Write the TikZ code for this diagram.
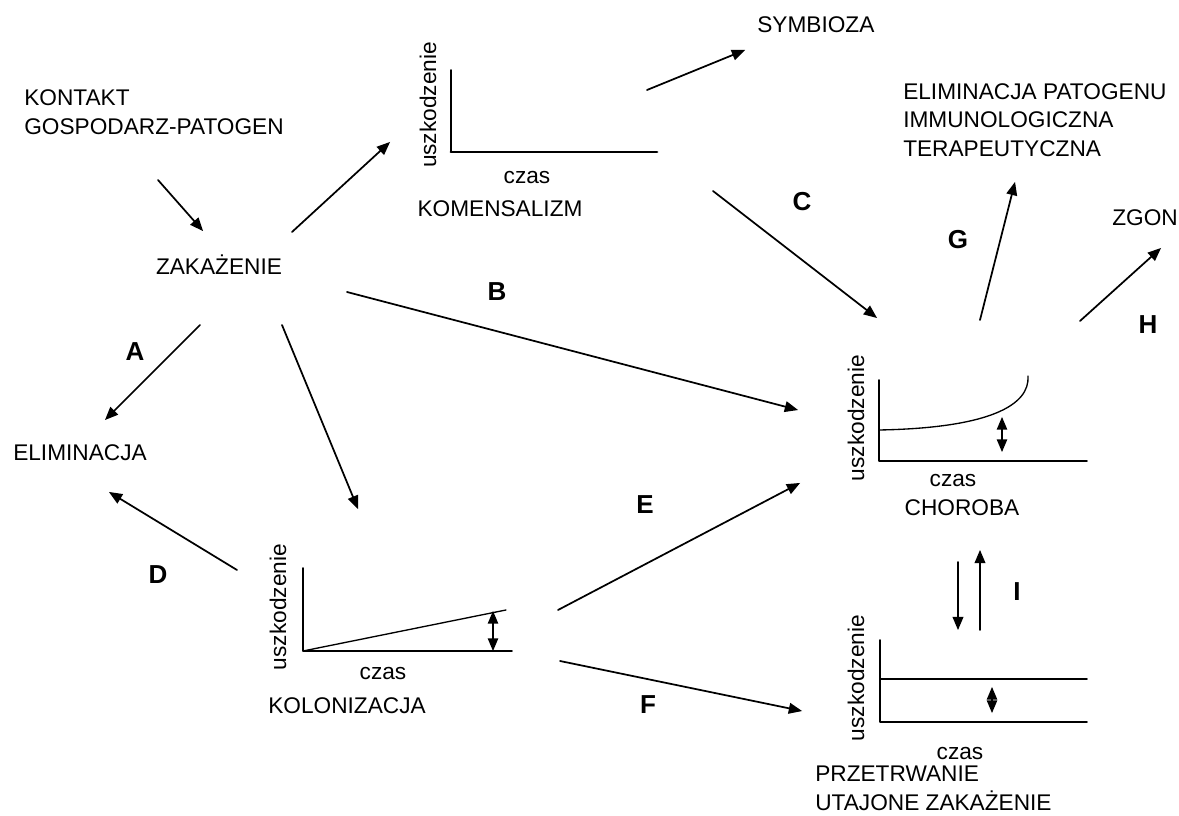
\documentclass[tikz,border=0pt]{standalone}
\usepackage{fontspec}
\setmainfont{Liberation Sans}
\usetikzlibrary{arrows}

\begin{document}
\begin{tikzpicture}[line cap=round,line join=round,>=triangle 45,x=0.75pt,y=-0.75pt,
  every node/.style={font=\fontsize{17}{21.5}\selectfont,inner sep=0pt},
  letter/.style={font=\fontsize{19.5}{20}\selectfont\bfseries},
  conn/.style={->,line width=1.3pt},
  axis/.style={line width=1.4pt},
  trend/.style={line width=1pt},
  spanarrow/.style={<->,line width=1.2pt}]
\useasboundingbox (0,0) rectangle (1179,816);

% texts
\node[anchor=west,align=left] (kontakt) at (24,112) {KONTAKT\\GOSPODARZ-PATOGEN};
\node[anchor=base] (zakazenie) at (219,275) {ZAKAŻENIE};
\node[anchor=base west] (eliminacja) at (13,461) {ELIMINACJA};
\node[anchor=base west] (symbioza) at (757,33) {SYMBIOZA};
\node[anchor=west,align=left] (elimpat) at (903,120) {ELIMINACJA PATOGENU\\IMMUNOLOGICZNA\\TERAPEUTYCZNA};
\node[anchor=base west] (zgon) at (1112,226) {ZGON};
\node[anchor=base] (komensalizm) at (500,217) {KOMENSALIZM};
\node[anchor=base] (choroba) at (962,516) {CHOROBA};
\node[anchor=base] (kolonizacja) at (347,713) {KOLONIZACJA};
\node[anchor=west,align=left] (przetrwanie) at (815,788) {PRZETRWANIE\\UTAJONE ZAKAŻENIE};

% letters
\node[letter] (la) at (135,352) {A};
\node[letter] (lb) at (497,292) {B};
\node[letter] (lc) at (802,202) {C};
\node[letter] (ld) at (158,575) {D};
\node[letter] (le) at (645,505) {E};
\node[letter] (lf) at (648,705) {F};
\node[letter] (lg) at (958,240) {G};
\node[letter] (lh) at (1148,325) {H};
\node[letter] (li) at (1017,592) {I};

% graph komensalizm
\draw[axis] (451,70) -- (451,152);
\draw[line width=2.2pt] (451,152) -- (657,152);
\node[rotate=90] (kom-y) at (428,105) {uszkodzenie};
\node[anchor=base] (kom-x) at (527,184) {czas};

% graph choroba
\draw[axis] (879,380) -- (879,461) -- (1087,461);
\draw[trend] (879,430) .. controls (990,428) and (1030,405) .. (1028,376);
\draw[spanarrow] (1002,417) -- (1002,452);
\node[rotate=90] (chor-y) at (856,418) {uszkodzenie};
\node[anchor=base] (chor-x) at (953,487) {czas};

% graph kolonizacja
\draw[axis] (303,568) -- (303,651) -- (512,651);
\draw[trend] (303,651) -- (506,610);
\draw[spanarrow] (493,611) -- (493,651);
\node[rotate=90] (kol-y) at (278,607) {uszkodzenie};
\node[anchor=base] (kol-x) at (383,679) {czas};

% graph przetrwanie
\draw[axis] (880,640) -- (880,722) -- (1087,722);
\draw[axis] (880,679) -- (1087,679);
\draw[spanarrow] (992,687) -- (992,713);
\node[rotate=90] (prz-y) at (856,678) {uszkodzenie};
\node[anchor=base] (prz-x) at (960,759) {czas};

% connector ends
\coordinate (kon-out) at (158,180);
\coordinate (zak-in) at (203,231);
\coordinate (zak-kom) at (292,232);
\coordinate (kom-in) at (390,142);
\coordinate (kom-sym) at (647,90);
\coordinate (sym-in) at (745,50);
\coordinate (zak-a) at (200,325);
\coordinate (elim-a) at (105,420);
\coordinate (zak-b) at (347,292);
\coordinate (chor-b) at (798,410);
\coordinate (zak-kol) at (282,325);
\coordinate (kol-in) at (358,509);
\coordinate (kol-d) at (237,570);
\coordinate (elim-d) at (109,492);
\coordinate (kom-c) at (713,191);
\coordinate (chor-c) at (877,318);
\coordinate (chor-g) at (980,320);
\coordinate (elimpat-in) at (1015,182);
\coordinate (chor-h) at (1080,321);
\coordinate (zgon-in) at (1161,248);
\coordinate (kol-e) at (558,610);
\coordinate (chor-e) at (800,483);
\coordinate (kol-f) at (560,661);
\coordinate (prz-f) at (802,711);
\coordinate (chor-down) at (958,562);
\coordinate (prz-in) at (958,630);
\coordinate (prz-up) at (980,630);
\coordinate (chor-in) at (980,550);

% connectors
\draw[conn] (kon-out) -- (zak-in);
\draw[conn] (zak-kom) -- (kom-in);
\draw[conn] (kom-sym) -- (sym-in);
\draw[conn] (zak-a) -- (elim-a);
\draw[conn] (zak-b) -- (chor-b);
\draw[conn] (zak-kol) -- (kol-in);
\draw[conn] (kol-d) -- (elim-d);
\draw[conn] (kom-c) -- (chor-c);
\draw[conn] (chor-g) -- (elimpat-in);
\draw[conn] (chor-h) -- (zgon-in);
\draw[conn] (kol-e) -- (chor-e);
\draw[conn] (kol-f) -- (prz-f);
\draw[conn] (chor-down) -- (prz-in);
\draw[conn] (prz-up) -- (chor-in);
\end{tikzpicture}
\end{document}
